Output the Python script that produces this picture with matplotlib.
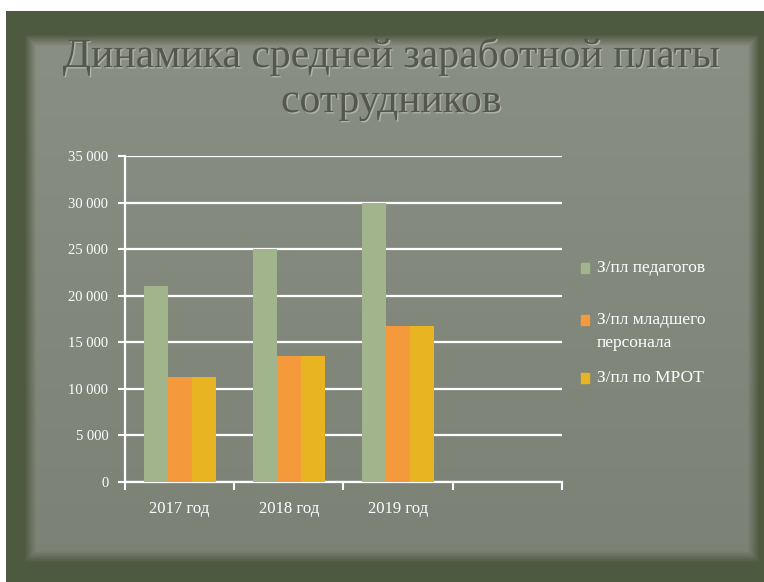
import numpy as np
import matplotlib.pyplot as plt
import matplotlib.patches as patches
import matplotlib.patheffects as pe
from matplotlib.ticker import FuncFormatter

# chart data
categories = ['2017 год', '2018 год', '2019 год', '']
series_names = ['З/пл педагогов', 'З/пл младшего\nперсонала', 'З/пл по МРОТ']
teachers = [21000, 25000, 30000, np.nan]
junior = [11300, 13500, 16800, np.nan]
mrot = [11300, 13500, 16800, np.nan]
yticks = [0, 5000, 10000, 15000, 20000, 25000, 30000, 35000]

colors = ['#a2b48c', '#f49a3c', '#e8b422']
serif = ['Liberation Serif', 'DejaVu Serif']

fig = plt.figure(figsize=(7.64, 5.82), dpi=100, facecolor='white')

# slide background: dark green frame, soft-edged grey panel
H, W = 582, 764
yy, xx = np.mgrid[0:H, 0:W]
d = np.minimum.reduce([xx - 28, 755 - xx, yy - 38, 558 - yy]).astype(float)
t = np.clip((d + 4) / 12.0, 0, 1)[..., None]
frame = np.array([0x4e, 0x5a, 0x3f]) / 255
top_c = np.array([0x8b, 0x90, 0x85]) / 255
bot_c = np.array([0x7c, 0x81, 0x76]) / 255
g = (yy / H)[..., None]
panel = top_c * (1 - g) + bot_c * g
img = frame * (1 - t) + panel * t
img[:11, :] = 1
img[:, :6] = 1

bg = fig.add_axes([0, 0, 1, 1])
bg.imshow(img, extent=(0, W, H, 0), aspect='auto', interpolation='bilinear')
bg.set_xlim(0, W)
bg.set_ylim(H, 0)
bg.axis('off')

title = fig.text(0.512, 0.865, 'Динамика средней заработной платы\nсотрудников',
                 ha='center', va='center', fontsize=30, color='#55574f',
                 family=serif, linespacing=1.22)
title.set_path_effects([pe.withSimplePatchShadow(offset=(1, -1), shadow_rgbFace='#b8bcb0', alpha=0.8)])

ax = fig.add_axes([0.1636, 0.1718, 0.572, 0.560])
ax.patch.set_alpha(0)

x = np.arange(len(categories))
w = 0.22
ax.bar(x - w, teachers, w, color=colors[0], zorder=3)
ax.bar(x, junior, w, color=colors[1], zorder=3)
ax.bar(x + w, mrot, w, color=colors[2], zorder=3)

ax.set_xlim(-0.5, len(categories) - 0.5)
ax.set_ylim(0, 35000)
ax.set_yticks(yticks)
ax.yaxis.set_major_formatter(FuncFormatter(lambda v, p: f'{int(v):,}'.replace(',', ' ')))
ax.grid(axis='y', color='white', linewidth=1.6, zorder=0)
ax.set_axisbelow(True)

ax.set_xticks(x)
ax.set_xticklabels(categories)
ax.set_xticks(np.arange(len(categories) + 1) - 0.5, minor=True)
ax.tick_params(axis='x', which='major', length=0, pad=14, colors='white', labelsize=12)
ax.tick_params(axis='x', which='minor', length=6, width=1.5, direction='out', color='white')
ax.tick_params(axis='y', length=5, width=1.5, color='white', colors='white', labelsize=10.5, pad=7)
for lab in ax.get_xticklabels() + ax.get_yticklabels():
    lab.set_family(serif)

for s in ['top', 'right']:
    ax.spines[s].set_visible(False)
for s in ['left', 'bottom']:
    ax.spines[s].set_color('white')
    ax.spines[s].set_linewidth(1.6)

# legend drawn by hand so the two-line entry sits like in the slide
leg_y = [268, 320, 378]
for name, c, ly in zip(series_names, colors, leg_y):
    bg.add_patch(patches.Rectangle((581, ly - 5), 8, 10, color=c, zorder=5))
    bg.text(597, ly - 8, name, ha='left', va='top', color='white',
            family=serif, fontsize=12.5, linespacing=1.55, zorder=5)

fig.savefig('out.png', dpi=100, facecolor=fig.get_facecolor())
